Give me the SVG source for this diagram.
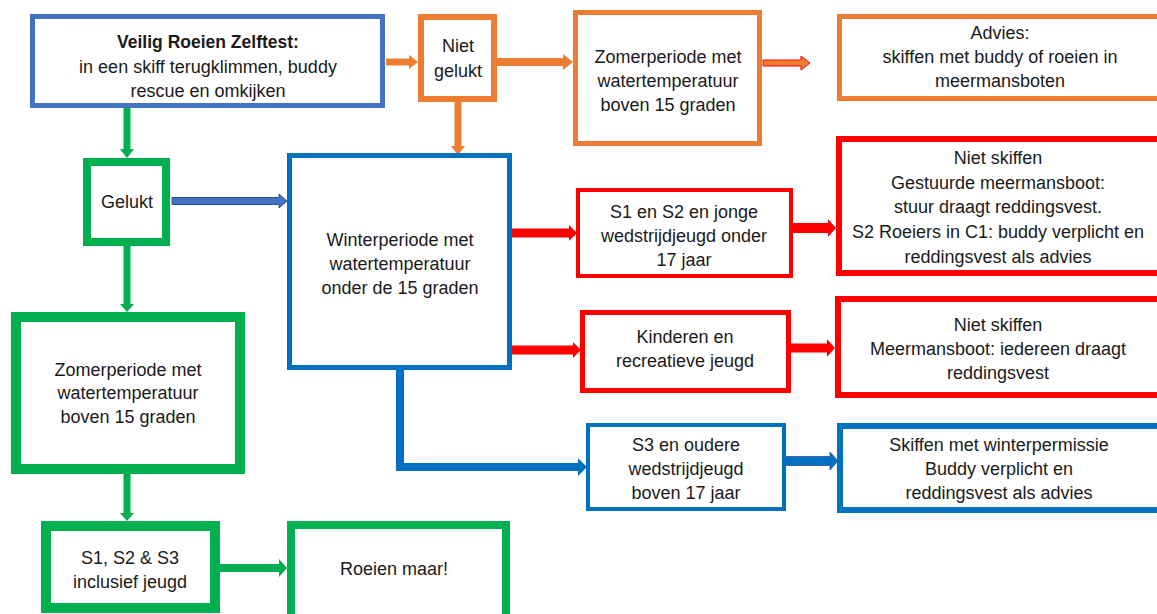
<svg xmlns="http://www.w3.org/2000/svg" width="1157" height="614" viewBox="0 0 1157 614">
<style>
text{font-family:"Liberation Sans",Arial,sans-serif;font-size:18px;fill:#1a1a1a;text-anchor:middle}
.b{font-weight:bold;font-size:17.5px}
rect{fill:#fff}
.blue1{stroke:#4472C4}
.blue{stroke:#0070C0}
.org{stroke:#ED7D31}
.grn{stroke:#00B050}
.red{stroke:#FF0000}
</style>
<rect width="1157" height="614" fill="#fff"/>
<g id="connectors">
<polygon fill="#ED7D31" points="386,58.5 409,58.5 409,55 418,62 409,69 409,65.5 386,65.5"/>
<polygon fill="#ED7D31" points="497,58 563,58 563,54 573,62 563,70 563,66 497,66"/>
<polygon fill="#ED7D31" stroke="#FF0000" stroke-width="1" points="763,60 801,60 801,56 810,63 801,70 801,66 763,66"/>
<polygon fill="#ED7D31" points="454.5,102 461.5,102 461.5,146 465,146 458,155 451,146 454.5,146"/>
<polygon fill="#00B050" points="123.5,108 130.5,108 130.5,149 134,149 127,158 120,149 123.5,149"/>
<polygon fill="#4472C4" stroke="#2F528F" stroke-width="1" points="172,197.5 279,197.5 279,194 287,201 279,208 279,204.5 172,204.5"/>
<polygon fill="#00B050" points="123.5,246 130.5,246 130.5,304 134,304 127,312 120,304 123.5,304"/>
<polygon fill="#FF0000" points="512,228.5 569,228.5 569,225 577,233 569,241 569,237.5 512,237.5"/>
<polygon fill="#FF0000" points="512,345.5 573,345.5 573,342 581,350 573,358 573,354.5 512,354.5"/>
<polygon fill="#FF0000" points="793,223 828,223 828,219 836,228 828,237 828,233 793,233"/>
<polygon fill="#FF0000" points="791,343.5 827,343.5 827,339 835,348 827,357 827,352.5 791,352.5"/>
<polygon fill="#0070C0" points="396,370 404,370 404,463 578,463 578,458 587,467 578,476 578,471 396,471"/>
<polygon fill="#0070C0" stroke="#2F5597" stroke-width="0.8" points="786,456.5 830,456.5 830,452 838,461 830,470 830,465.5 786,465.5"/>
<polygon fill="#00B050" points="123.5,474 130.5,474 130.5,513 134,513 127,521 120,513 123.5,513"/>
<polygon fill="#00B050" points="220,564 279,564 279,559 287,568 279,577 279,572 220,572"/>
</g>
<g id="veilig">
<rect class="blue1" x="32.5" y="16.5" width="350" height="89" stroke-width="5"/>
<text x="208" y="48" class="b">Veilig Roeien Zelftest:</text>
<text x="208" y="73">in een skiff terugklimmen, buddy</text>
<text x="208" y="97">rescue en omkijken</text>
</g>
<g id="nietgelukt">
<rect class="org" x="421" y="17" width="73" height="82" stroke-width="6"/>
<text x="458" y="52">Niet</text>
<text x="458" y="77">gelukt</text>
</g>
<g id="zomer-oranje">
<rect class="org" x="575.5" y="12.5" width="184" height="131" stroke-width="5"/>
<text x="668" y="63">Zomerperiode met</text>
<text x="668" y="87">watertemperatuur</text>
<text x="668" y="111">boven 15 graden</text>
</g>
<g id="advies">
<rect class="org" x="839.5" y="16.5" width="330" height="82" stroke-width="5"/>
<text x="1000" y="39">Advies:</text>
<text x="1000" y="63">skiffen met buddy of roeien in</text>
<text x="1000" y="87">meermansboten</text>
</g>
<g id="gelukt">
<rect class="grn" x="87" y="162" width="79" height="80" stroke-width="8"/>
<text x="127" y="208">Gelukt</text>
</g>
<g id="winter">
<rect class="blue" x="289.5" y="155.5" width="220" height="212" stroke-width="5"/>
<text x="400" y="246">Winterperiode met</text>
<text x="400" y="270">watertemperatuur</text>
<text x="400" y="294">onder de 15 graden</text>
</g>
<g id="s1s2">
<rect class="red" x="578" y="190" width="213" height="86" stroke-width="4"/>
<text x="684" y="218">S1 en S2 en jonge</text>
<text x="684" y="242">wedstrijdjeugd onder</text>
<text x="684" y="266">17 jaar</text>
</g>
<g id="nietskiffen1">
<rect class="red" x="839" y="139" width="330" height="134" stroke-width="6"/>
<text x="998" y="164">Niet skiffen</text>
<text x="998" y="188.5">Gestuurde meermansboot:</text>
<text x="998" y="213">stuur draagt reddingsvest.</text>
<text x="998" y="238">S2 Roeiers in C1: buddy verplicht en</text>
<text x="998" y="263">reddingsvest als advies</text>
</g>
<g id="kinderen">
<rect class="red" x="582.5" y="312.5" width="206" height="78" stroke-width="5"/>
<text x="685" y="343">Kinderen en</text>
<text x="685" y="367">recreatieve jeugd</text>
</g>
<g id="nietskiffen2">
<rect class="red" x="838" y="299" width="330" height="96" stroke-width="6"/>
<text x="998" y="331">Niet skiffen</text>
<text x="998" y="355">Meermansboot: iedereen draagt</text>
<text x="998" y="379">reddingsvest</text>
</g>
<g id="s3">
<rect class="blue" x="588" y="425" width="196" height="84" stroke-width="4"/>
<text x="686" y="451">S3 en oudere</text>
<text x="686" y="475">wedstrijdjeugd</text>
<text x="686" y="499">boven 17 jaar</text>
</g>
<g id="winterpermissie">
<rect class="blue" x="840" y="426" width="330" height="84" stroke-width="6"/>
<text x="999" y="451">Skiffen met winterpermissie</text>
<text x="999" y="475">Buddy verplicht en</text>
<text x="999" y="499">reddingsvest als advies</text>
</g>
<g id="zomer-groen">
<rect class="grn" x="16" y="317" width="224" height="152" stroke-width="10"/>
<text x="128" y="376">Zomerperiode met</text>
<text x="128" y="399">watertemperatuur</text>
<text x="128" y="423">boven 15 graden</text>
</g>
<g id="s1s2s3">
<rect class="grn" x="46" y="526" width="169" height="82" stroke-width="10"/>
<text x="130" y="564">S1, S2 &amp; S3</text>
<text x="130" y="588">inclusief jeugd</text>
</g>
<g id="roeienmaar">
<rect class="grn" x="291" y="525" width="215" height="95" stroke-width="8"/>
<text x="394" y="575">Roeien maar!</text>
</g>
</svg>
